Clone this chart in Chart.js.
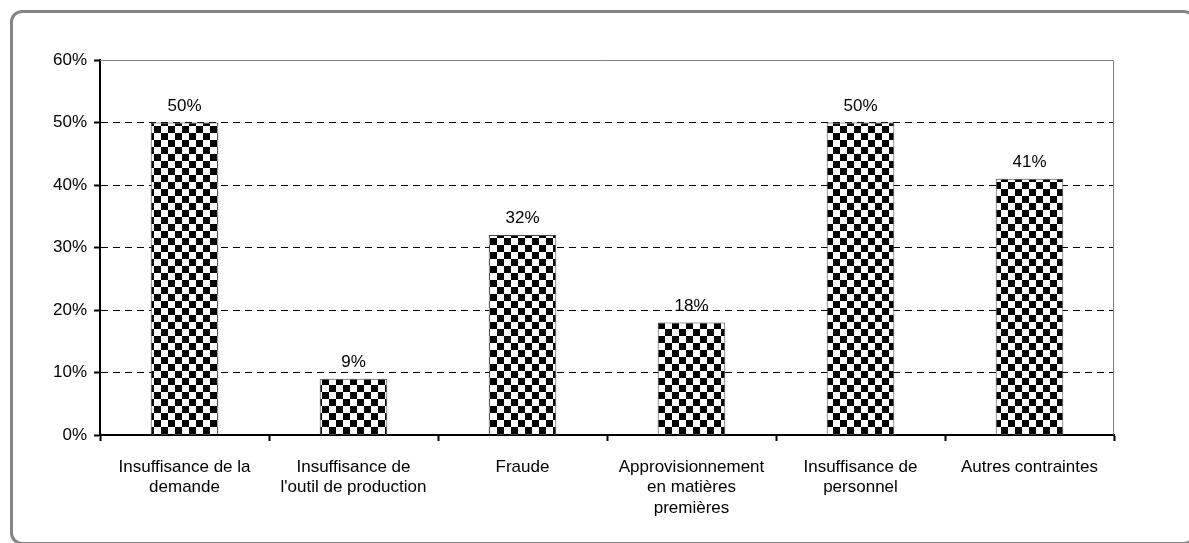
<!DOCTYPE html>
<html>
<head>
<meta charset="utf-8">
<script src="https://cdn.jsdelivr.net/npm/chart.js@4/dist/chart.umd.min.js"></script>
<style>
  html, body { margin: 0; padding: 0; background: #fff; overflow: hidden; }
  #wrap { position: relative; width: 1189px; height: 543px; overflow: hidden; }
  #frame {
    position: absolute; left: 10px; top: 10px; width: 1186px; height: 535px;
    box-sizing: border-box; border: 3px solid #858585; border-radius: 12px;
    pointer-events: none;
  }
  canvas { position: absolute; left: 0; top: 0; }
</style>
</head>
<body>
<div id="wrap">
  <canvas id="chart" width="1189" height="543"></canvas>
  <div id="frame"></div>
</div>
<script>
const CATEGORIES = [
  ["Insuffisance de la", "demande"],
  ["Insuffisance de", "l'outil de production"],
  ["Fraude"],
  ["Approvisionnement", "en matières", "premières"],
  ["Insuffisance de", "personnel"],
  ["Autres contraintes"],
];
const VALUES = [50, 9, 32, 18, 50, 41];
const Y_MAX = 60;
const Y_STEP = 10;

const FONT = '"Liberation Sans", Arial, sans-serif';

// checkerboard fill like the old Excel pattern
function checkerPattern() {
  const tile = document.createElement("canvas");
  tile.width = 14;
  tile.height = 14;
  const t = tile.getContext("2d");
  t.fillStyle = "#fff";
  t.fillRect(0, 0, 14, 14);
  t.fillStyle = "#000";
  t.fillRect(0, 0, 7, 7);
  t.fillRect(7, 7, 7, 7);
  return t.createPattern(tile, "repeat");
}

const valueLabels = {
  id: "valueLabels",
  afterDatasetsDraw(chart) {
    const ctx = chart.ctx;
    const meta = chart.getDatasetMeta(0);
    ctx.save();
    ctx.font = "17px " + FONT;
    ctx.fillStyle = "#000";
    ctx.textAlign = "center";
    ctx.textBaseline = "alphabetic";
    meta.data.forEach((bar, i) => {
      ctx.fillText(VALUES[i] + "%", bar.x, bar.y - 12);
    });
    ctx.restore();
  },
};

const plotFrame = {
  id: "plotFrame",
  beforeDatasetsDraw(chart) {
    const { ctx, chartArea: a } = chart;
    ctx.save();
    ctx.strokeStyle = "#808080";
    ctx.lineWidth = 1;
    ctx.beginPath();
    ctx.moveTo(a.left, a.top + 0.5);
    ctx.lineTo(a.right - 0.5, a.top + 0.5);
    ctx.lineTo(a.right - 0.5, a.bottom);
    ctx.stroke();
    ctx.restore();
  },
};

new Chart(document.getElementById("chart"), {
  type: "bar",
  data: {
    labels: CATEGORIES,
    datasets: [
      {
        data: VALUES,
        backgroundColor: checkerPattern(),
        borderColor: "#404040",
        borderWidth: 1,
        barPercentage: 0.8,
        categoryPercentage: 0.5,
      },
    ],
  },
  options: {
    responsive: false,
    devicePixelRatio: 1,
    animation: false,
    layout: { padding: { left: 0, right: 75, top: 60, bottom: 0 } },
    plugins: {
      legend: { display: false },
      tooltip: { enabled: false },
    },
    scales: {
      x: {
        afterFit: (s) => { s.height = 108; },
        border: { color: "#000", width: 2 },
        grid: {
          drawOnChartArea: false,
          tickLength: 6,
          tickWidth: 2,
          tickColor: "#000",
        },
        ticks: {
          color: "#000",
          font: { family: FONT, size: 17, lineHeight: 1.2 },
          padding: 16,
          maxRotation: 0,
          autoSkip: false,
        },
      },
      y: {
        min: 0,
        max: Y_MAX,
        afterFit: (s) => { s.width = 100; },
        // in v4 border.dash is what dashes the grid lines
        border: { color: "#000", width: 2, dash: [7, 5] },
        grid: {
          color: (c) => (c.tick && c.tick.value >= Y_MAX ? "rgba(0,0,0,0)" : "#000"),
          lineWidth: 1,
          tickLength: 6,
          tickWidth: 2,
          tickColor: "#000",
        },
        ticks: {
          stepSize: Y_STEP,
          color: "#000",
          font: { family: FONT, size: 17 },
          padding: 7,
          callback: (v) => Math.round(v) + "%",
        },
      },
    },
  },
  plugins: [plotFrame, valueLabels],
});
</script>
</body>
</html>
